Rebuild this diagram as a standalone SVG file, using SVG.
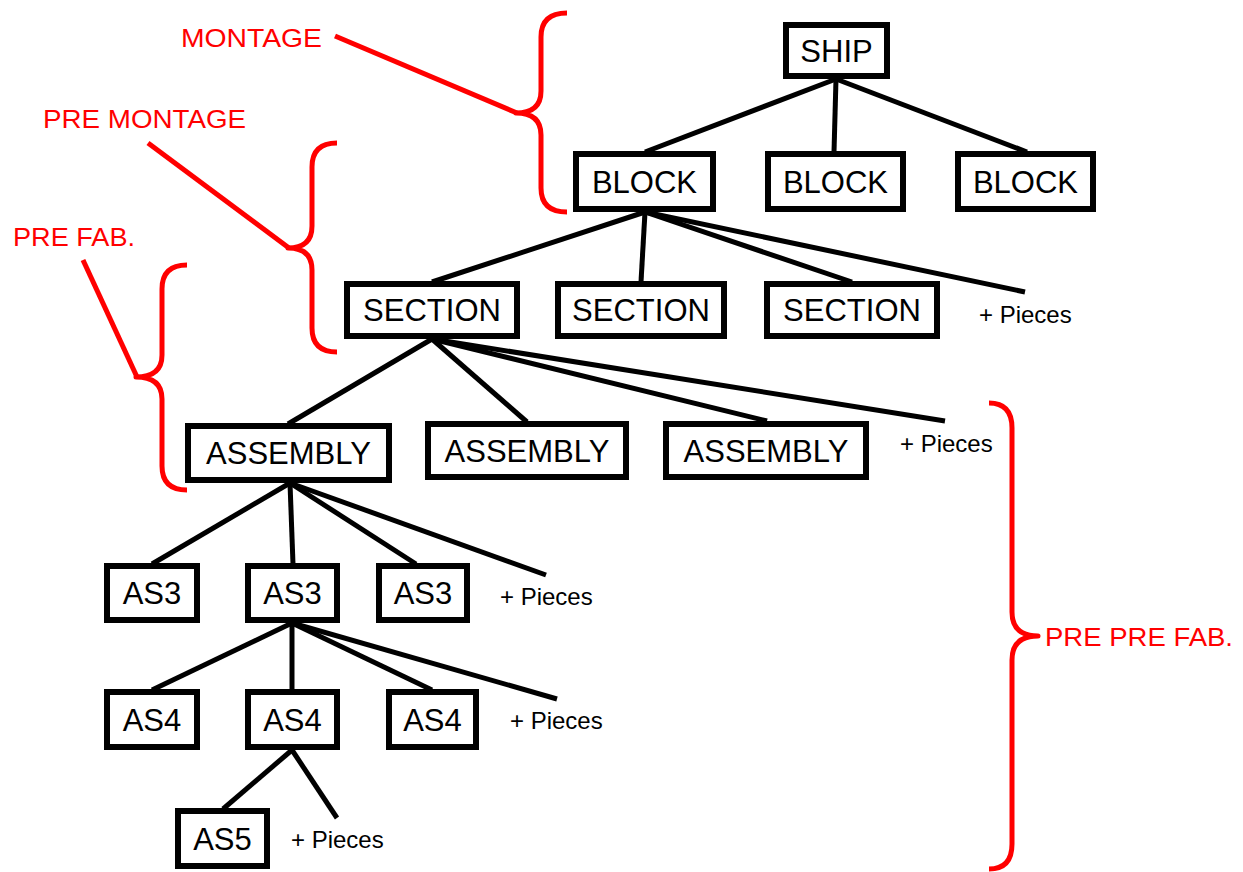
<svg xmlns="http://www.w3.org/2000/svg" width="1243" height="872" viewBox="0 0 1243 872">
  <style>
    .box rect { fill: #ffffff; stroke: #000000; stroke-width: 6; }
    .box text { font-family: "Liberation Sans", Arial, sans-serif; font-size: 31px; fill: #000000; text-anchor: middle; }
    .pieces { font-family: "Liberation Sans", Arial, sans-serif; font-size: 24px; fill: #000000; }
    .edge { stroke: #000000; stroke-width: 5; stroke-linecap: butt; fill: none; }
    .brace { stroke: #ff0000; stroke-width: 5; fill: none; stroke-linecap: butt; stroke-linejoin: round; }
    .stage { font-family: "Liberation Sans", Arial, sans-serif; font-size: 26px; fill: #ff0000; }
  </style>

  <rect width="1243" height="872" fill="#ffffff"/>

  <!-- tree connectors -->
  <g id="connectors" class="edge">
    <line x1="836" y1="79" x2="645" y2="152"/>
    <line x1="836" y1="79" x2="834" y2="152"/>
    <line x1="836" y1="79" x2="1027" y2="152"/>

    <line x1="645" y1="212" x2="432" y2="282"/>
    <line x1="645" y1="212" x2="641" y2="282"/>
    <line x1="645" y1="212" x2="852" y2="282"/>
    <line x1="645" y1="212" x2="1025" y2="292"/>

    <line x1="432" y1="339" x2="288" y2="424"/>
    <line x1="432" y1="339" x2="527" y2="422"/>
    <line x1="432" y1="339" x2="767" y2="421"/>
    <line x1="432" y1="339" x2="945" y2="421"/>

    <line x1="290" y1="483" x2="152" y2="564"/>
    <line x1="290" y1="483" x2="293" y2="564"/>
    <line x1="290" y1="483" x2="416" y2="564"/>
    <line x1="290" y1="483" x2="546" y2="575"/>

    <line x1="292" y1="623" x2="152" y2="690"/>
    <line x1="292" y1="623" x2="292" y2="690"/>
    <line x1="292" y1="623" x2="432" y2="690"/>
    <line x1="292" y1="623" x2="557" y2="699"/>

    <line x1="292" y1="750" x2="223" y2="809"/>
    <line x1="292" y1="750" x2="337" y2="818"/>
  </g>

  <!-- level 0 -->
  <g id="ship" class="box"><rect x="786" y="25" width="101" height="51"/><text x="836.5" y="61.5">SHIP</text></g>

  <!-- level 1 -->
  <g id="block-1" class="box"><rect x="576" y="154" width="137" height="55"/><text x="644.5" y="192.5">BLOCK</text></g>
  <g id="block-2" class="box"><rect x="768" y="154" width="135" height="55"/><text x="835.5" y="192.5">BLOCK</text></g>
  <g id="block-3" class="box"><rect x="958" y="154" width="135" height="55"/><text x="1025.5" y="192.5">BLOCK</text></g>

  <!-- level 2 -->
  <g id="section-1" class="box"><rect x="347" y="284" width="170" height="52"/><text x="432" y="321">SECTION</text></g>
  <g id="section-2" class="box"><rect x="558" y="284" width="166" height="52"/><text x="641" y="321">SECTION</text></g>
  <g id="section-3" class="box"><rect x="767" y="284" width="170" height="52"/><text x="852" y="321">SECTION</text></g>
  <text id="pieces-section" class="pieces" x="979" y="323">+ Pieces</text>

  <!-- level 3 -->
  <g id="assembly-1" class="box"><rect x="188" y="426" width="201" height="54"/><text x="288.5" y="464">ASSEMBLY</text></g>
  <g id="assembly-2" class="box"><rect x="428" y="424" width="198" height="53"/><text x="527" y="461.5">ASSEMBLY</text></g>
  <g id="assembly-3" class="box"><rect x="666" y="424" width="200" height="53"/><text x="766" y="461.5">ASSEMBLY</text></g>
  <text id="pieces-assembly" class="pieces" x="900" y="452">+ Pieces</text>

  <!-- level 4 -->
  <g id="as3-1" class="box"><rect x="107" y="566" width="90" height="54"/><text x="152" y="604">AS3</text></g>
  <g id="as3-2" class="box"><rect x="248" y="566" width="89" height="54"/><text x="292.5" y="604">AS3</text></g>
  <g id="as3-3" class="box"><rect x="379" y="566" width="88" height="54"/><text x="423" y="604">AS3</text></g>
  <text id="pieces-as3" class="pieces" x="500" y="605">+ Pieces</text>

  <!-- level 5 -->
  <g id="as4-1" class="box"><rect x="107" y="692" width="90" height="55"/><text x="152" y="730.5">AS4</text></g>
  <g id="as4-2" class="box"><rect x="248" y="692" width="89" height="55"/><text x="292.5" y="730.5">AS4</text></g>
  <g id="as4-3" class="box"><rect x="389" y="692" width="87" height="55"/><text x="432.5" y="730.5">AS4</text></g>
  <text id="pieces-as4" class="pieces" x="510" y="729">+ Pieces</text>

  <!-- level 6 -->
  <g id="as5" class="box"><rect x="178" y="811" width="89" height="55"/><text x="222.5" y="849.5">AS5</text></g>
  <text id="pieces-as5" class="pieces" x="291" y="848">+ Pieces</text>

  <!-- production stage brackets -->
  <g id="stage-montage">
    <text class="stage" x="181" y="47" textLength="141" lengthAdjust="spacingAndGlyphs">MONTAGE</text>
    <line class="brace" x1="335" y1="36" x2="517" y2="113"/>
    <path class="brace" d="M567,13 Q541,13 541,37 L541,91 Q541,113 516,113 Q541,113 541,135 L541,188 Q541,212 567,212"/>
  </g>
  <g id="stage-pre-montage">
    <text class="stage" x="43" y="128" textLength="203" lengthAdjust="spacingAndGlyphs">PRE MONTAGE</text>
    <line class="brace" x1="148" y1="143" x2="289" y2="248"/>
    <path class="brace" d="M337,143 Q312,143 312,167 L312,226 Q312,248 288,248 Q312,248 312,270 L312,328 Q312,352 337,352"/>
  </g>
  <g id="stage-pre-fab">
    <text class="stage" x="13" y="246" textLength="122" lengthAdjust="spacingAndGlyphs">PRE FAB.</text>
    <line class="brace" x1="83" y1="260" x2="137" y2="377"/>
    <path class="brace" d="M187,265 Q162,265 162,289 L162,355 Q162,377 136,377 Q162,377 162,399 L162,466 Q162,490 187,490"/>
  </g>
  <g id="stage-pre-pre-fab">
    <text class="stage" x="1045" y="646" textLength="188" lengthAdjust="spacingAndGlyphs">PRE PRE FAB.</text>
    <path class="brace" d="M989,403 Q1012,403 1012,428 L1012,612 Q1012,636 1038,636 Q1012,636 1012,660 L1012,844 Q1012,869 989,869"/>
  </g>
</svg>
